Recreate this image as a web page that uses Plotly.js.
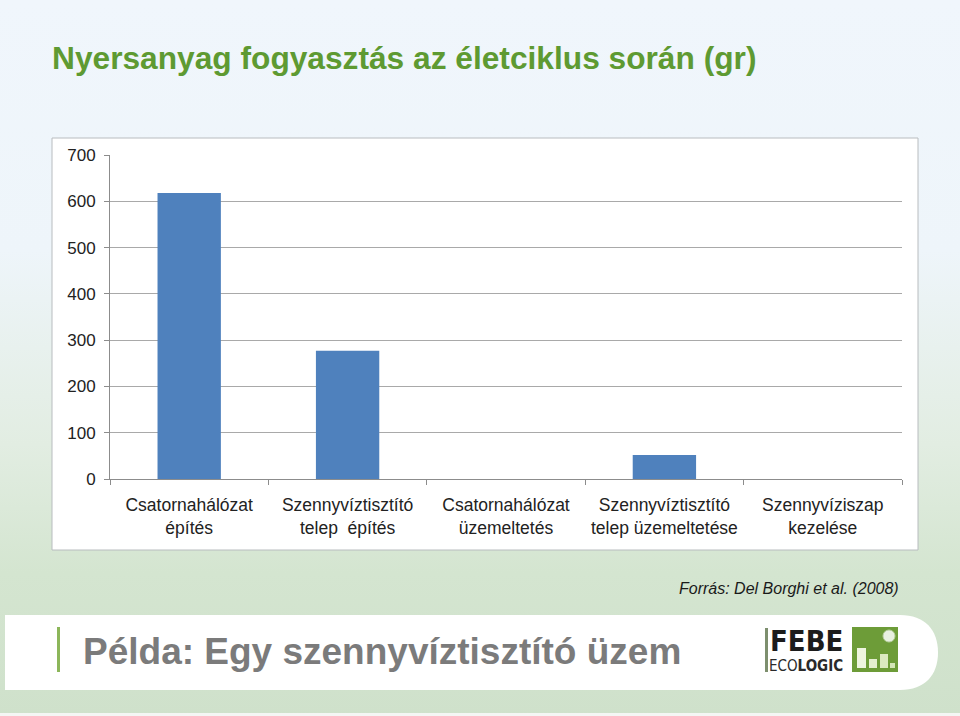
<!DOCTYPE html>
<html>
<head>
<meta charset="utf-8">
<script src="https://cdn.plot.ly/plotly-3.0.1.min.js"></script>
<style>
  html, body { margin:0; padding:0; }
  body {
    width:960px; height:716px; overflow:hidden;
    background: linear-gradient(to bottom, #f0f6fc 0%, #eef5fa 35%, #e2ede2 62%, #d4e5d0 80%, #cfe1cb 100%);
  }
  #chart { width:960px; height:716px; }
</style>
</head>
<body>
<div id="chart"></div>
<script>
const categories = [
  "Csatornahálózat<br>építés",
  "Szennyvíztisztító<br>telep  építés",
  "Csatornahálózat<br>üzemeltetés",
  "Szennyvíztisztító<br>telep üzemeltetése",
  "Szennyvíziszap<br>kezelése"
];
const values = [618, 277, 0, 52, 0];
const yTicks = [0, 100, 200, 300, 400, 500, 600, 700];

const titleText = "Nyersanyag fogyasztás az életciklus során (gr)";
const sourceText = "Forrás: Del Borghi et al. (2008)";
const subtitleText = "Példa: Egy szennyvíztisztító üzem";

// plot area in pixels
const L = 110, R = 902, T = 155, B = 479;
const W = 960, H = 716;
const px = x => (x - L) / (R - L);
const py = y => (B - y) / (B - T);
const rect = (x0, x1, y0, y1, fill, layer) => ({type:'rect', xref:'paper', yref:'paper',
  x0:px(x0), x1:px(x1), y0:py(y1), y1:py(y0), fillcolor:fill, line:{width:0}, layer: layer || 'above'});

const shapes = [
  // chart box
  {type:'rect', xref:'paper', yref:'paper', x0:px(52), x1:px(918), y0:py(550), y1:py(138),
   fillcolor:'#ffffff', line:{color:'#b8bcbf', width:1}, layer:'below'},
  // bottom white band with rounded right end
  {type:'path', xref:'paper', yref:'paper', layer:'below',
   path: (function(){
     const x0=px(5), x1=px(900), xr=px(938), y0=py(615), y1=py(690), ym=py(652.5);
     return `M ${x0} ${y0} L ${x1} ${y0} C ${px(925)} ${y0} ${xr} ${py(630)} ${xr} ${ym} C ${xr} ${py(675)} ${px(925)} ${y1} ${x1} ${y1} L ${x0} ${y1} Z`;
   })(),
   fillcolor:'#ffffff', line:{width:0}},
  // bottom strip
  rect(0, 960, 713, 716, '#f4f6f4', 'below'),
  // green accent bar next to subtitle
  rect(57, 60, 627, 672, '#8cb65a'),
  // logo: grey bar
  rect(765, 768, 628, 672, '#7d8f6e'),
  // logo green square
  rect(852, 898, 627, 672, '#6d9c38'),
  rect(857, 866, 648, 668, '#eef5df'),
  rect(869, 877, 659, 668, '#e4efcf'),
  rect(880, 888, 654, 668, '#dbe9c0'),
  rect(890, 895, 663, 668, '#d4e6b6'),
  {type:'circle', xref:'paper', yref:'paper', x0:px(883), x1:px(895), y0:py(642), y1:py(630),
   fillcolor:'#e8f0e0', line:{color:'#b9cfa0', width:1}}
];

const annotations = [
  {text: '<i>' + sourceText + '</i>', xref:'paper', yref:'paper', x:px(901), y:py(588), xanchor:'right', yanchor:'middle',
   showarrow:false, font:{family:'Liberation Sans, Arial, sans-serif', size:16, color:'#1a1a1a'}},
  {text: '<b>' + subtitleText + '</b>', xref:'paper', yref:'paper', x:px(81), y:py(651), xanchor:'left', yanchor:'middle',
   showarrow:false, font:{family:'Liberation Sans, Arial, sans-serif', size:37, color:'#7b7b7b'}},
  {text: '<b>FEBE</b>', xref:'paper', yref:'paper', x:px(768), y:py(641), xanchor:'left', yanchor:'middle',
   showarrow:false, font:{family:'DejaVu Sans Condensed, DejaVu Sans, sans-serif', size:29, color:'#1c1c1c'}},
  {text: 'ECO<b>LOGIC</b>', xref:'paper', yref:'paper', x:px(767), y:py(666), xanchor:'left', yanchor:'middle',
   showarrow:false, font:{family:'DejaVu Sans Condensed, DejaVu Sans, sans-serif', size:15, color:'#2a2a2a'}}
];

const data = [{
  type:'bar',
  x: categories,
  y: values,
  marker:{color:'#4f81bd', line:{width:0}},
  hoverinfo:'x+y'
}];

const layout = {
  width: W, height: H,
  margin: {l:L, r:W-R, t:T, b:H-B, pad:0},
  paper_bgcolor:'rgba(0,0,0,0)',
  plot_bgcolor:'#ffffff',
  showlegend:false,
  bargap:0.6,
  title: {
    text:'<b>' + titleText + '</b>',
    xref:'container', yref:'container', x:52/W, y:1-58/H, xanchor:'left', yanchor:'middle',
    font:{family:'Liberation Sans, Arial, sans-serif', size:31.7, color:'#5e9a32'}
  },
  xaxis: {
    type:'category',
    tickson:'boundaries',
    ticks:'outside', ticklen:5, tickcolor:'#8c8c8c',
    ticklabelstandoff:10,
    showline:true, linecolor:'#8c8c8c', linewidth:1,
    showgrid:false, zeroline:false,
    tickfont:{family:'Liberation Sans, Arial, sans-serif', size:17.5, color:'#222222'},
    fixedrange:true
  },
  yaxis: {
    range:[0, 700],
    tickvals: yTicks,
    ticktext: yTicks.map(String),
    ticks:'outside', ticklen:5, tickcolor:'#8c8c8c',
    ticklabelstandoff:5,
    showline:true, linecolor:'#8c8c8c', linewidth:1,
    showgrid:true, gridcolor:'#a9a9a9', gridwidth:1,
    zeroline:false,
    tickfont:{family:'Liberation Sans, Arial, sans-serif', size:17, color:'#222222'},
    fixedrange:true
  },
  shapes: shapes,
  annotations: annotations
};

Plotly.newPlot('chart', data, layout, {displayModeBar:false, staticPlot:true});
</script>
</body>
</html>
